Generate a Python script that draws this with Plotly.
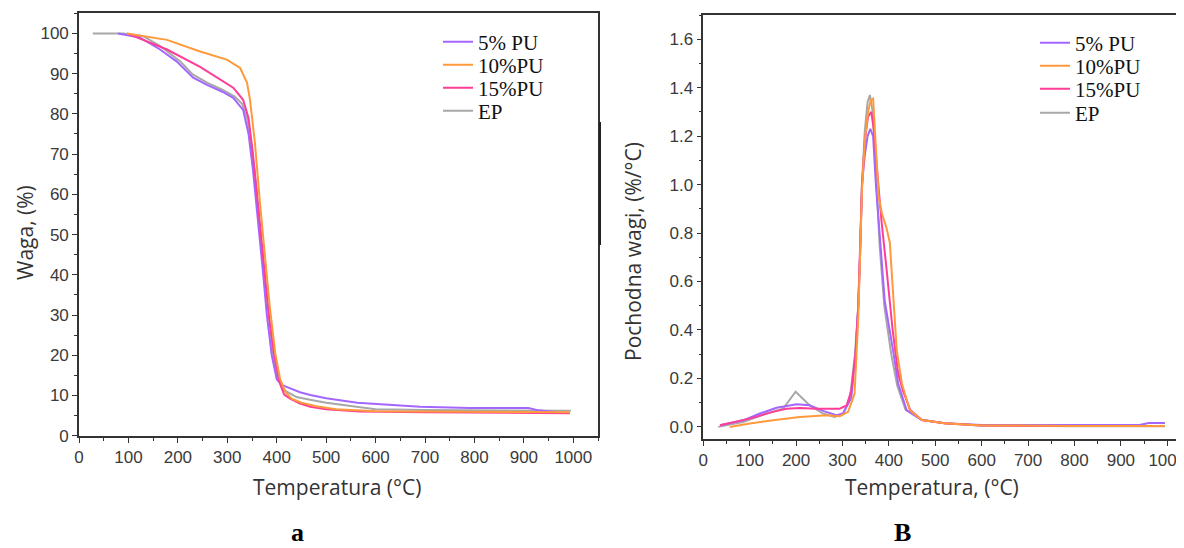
import plotly.graph_objects as go

# The page body has an 8px margin, so the figure is made 8px smaller and all
# layout positions (given in window pixels) are shifted accordingly.
WIN_W, WIN_H, OFF = 1184, 548, 8
FW, FH = WIN_W - OFF, WIN_H - OFF

def fx(px):
    return (px - OFF) / FW

def fy(py):
    return 1 - (py - OFF) / FH

series_names = ["5% PU", "10%PU", "15%PU", "EP"]
series_colors = ["#A366FF", "#FF9A3C", "#FF3D96", "#A8A8A8"]

# ---- Panel a: TGA (weight %) ----
tga_T_5 = [79, 123, 164, 198, 231, 259, 290, 312, 332, 343, 352, 362, 372, 380, 390, 400, 410, 425, 447, 468, 500, 563, 600, 690, 791, 909, 930, 975, 993]
tga_W_5 = [100, 99, 96, 93, 89, 87.2, 85.5, 84, 81, 75, 66, 54, 41, 30, 20, 14, 12.6, 11.9, 10.8, 10.1, 9.3, 8.2, 7.9, 7.2, 6.9, 6.9, 6.3, 5.7, 5.7]

tga_T_10 = [97, 178, 245, 299, 326, 340, 346, 356, 366, 376, 386, 397, 407, 418, 430, 450, 480, 520, 600, 700, 800, 900, 993]
tga_W_10 = [100, 98.4, 95.5, 93.5, 91.4, 87.7, 83.5, 72.7, 58, 45, 32, 20.5, 14, 10.8, 9.2, 8.2, 7.3, 6.6, 6.1, 6.0, 5.9, 5.8, 5.8]

tga_T_15 = [97, 178, 245, 290, 312, 332, 343, 352, 362, 372, 384, 395, 405, 415, 427, 447, 468, 500, 568, 700, 800, 900, 993]
tga_W_15 = [100, 96, 91.7, 88.3, 86.5, 83.5, 79, 70, 57, 44, 30, 20, 13.5, 10.2, 9.2, 8.0, 7.2, 6.6, 6.0, 5.8, 5.7, 5.6, 5.6]

tga_T_EP = [28, 90, 130, 165, 205, 230, 260, 290, 315, 330, 340, 348, 356, 366, 375, 384, 393, 403, 415, 440, 470, 500, 550, 600, 700, 800, 900, 995]
tga_W_EP = [100, 100, 99.3, 96.8, 93, 89.8, 87.7, 86, 84.3, 82.5, 79, 73, 65, 52, 40, 30, 20, 14, 11.3, 9.6, 8.9, 8.2, 7.4, 6.6, 6.4, 6.3, 6.2, 6.2]

# ---- Panel B: DTG (%/°C) ----
dtg_T_5 = [36, 86, 122, 158, 201, 229, 258, 287, 301, 319, 328, 334, 338, 342, 348, 354, 360, 366, 372, 380, 391, 409, 420, 438, 471, 520, 600, 720, 800, 940, 960, 995]
dtg_D_5 = [0.007, 0.027, 0.055, 0.079, 0.093, 0.089, 0.066, 0.048, 0.055, 0.12, 0.3, 0.5, 0.72, 1.0, 1.12, 1.2, 1.23, 1.2, 1.0, 0.78, 0.52, 0.315, 0.179, 0.069, 0.028, 0.015, 0.008, 0.008, 0.008, 0.008, 0.016, 0.016]

dtg_T_10 = [57, 100, 150, 208, 266, 294, 312, 326, 334, 338, 342, 348, 355, 361, 366, 372, 378, 385, 395, 402, 406, 410, 417, 428, 445, 471, 520, 600, 700, 800, 900, 995]
dtg_D_10 = [0.0, 0.014, 0.027, 0.041, 0.048, 0.044, 0.062, 0.137, 0.45, 0.7, 0.98, 1.18, 1.30, 1.35, 1.355, 1.15, 0.95, 0.88, 0.82, 0.76, 0.65, 0.5, 0.315, 0.179, 0.069, 0.028, 0.015, 0.006, 0.004, 0.004, 0.004, 0.004]

dtg_T_15 = [36, 100, 150, 179, 208, 244, 294, 309, 319, 328, 334, 338, 342, 348, 355, 362, 368, 375, 384, 395, 408, 420, 430, 446, 471, 520, 600, 700, 800, 900, 995]
dtg_D_15 = [0.007, 0.034, 0.062, 0.075, 0.078, 0.075, 0.075, 0.089, 0.15, 0.3, 0.5, 0.72, 1.0, 1.18, 1.28, 1.30, 1.22, 1.05, 0.85, 0.65, 0.40, 0.22, 0.15, 0.07, 0.028, 0.015, 0.006, 0.004, 0.004, 0.004, 0.004]

dtg_T_EP = [32, 86, 136, 172, 199, 229, 258, 283, 301, 316, 327, 334, 338, 342, 348, 354, 359, 365, 372, 380, 390, 405, 418, 436, 470, 520, 600, 700, 800, 900, 995]
dtg_D_EP = [0.0, 0.02, 0.055, 0.075, 0.145, 0.089, 0.055, 0.041, 0.052, 0.12, 0.3, 0.5, 0.72, 1.0, 1.22, 1.34, 1.37, 1.3, 1.05, 0.75, 0.5, 0.3, 0.17, 0.07, 0.03, 0.015, 0.005, 0.003, 0.003, 0.003, 0.003]

tga = [(tga_T_5, tga_W_5), (tga_T_10, tga_W_10), (tga_T_15, tga_W_15), (tga_T_EP, tga_W_EP)]
dtg = [(dtg_T_5, dtg_D_5), (dtg_T_10, dtg_D_10), (dtg_T_15, dtg_D_15), (dtg_T_EP, dtg_D_EP)]

# drawing order: EP first (underneath), then 5%, 15%, 10%
draw_order = [3, 0, 2, 1]

fig = go.Figure()

legend_rows_a = [42, 65, 88, 111]
legend_rows_b = [43, 66, 89, 113]

def legend_key(panel, i):
    idx = (0 if panel == "a" else 4) + i + 1
    return "legend" if idx == 1 else "legend%d" % idx

for panel, data, xa, ya in [("a", tga, "x", "y"), ("b", dtg, "x2", "y2")]:
    for i in draw_order:
        T, V = data[i]
        fig.add_trace(go.Scatter(
            x=T, y=V, mode="lines", name=series_names[i],
            line=dict(color=series_colors[i], width=2),
            xaxis=xa, yaxis=ya, legend=legend_key(panel, i), showlegend=True,
        ))

# legends (one per entry so the rows can sit tightly like the original)
leg_font = dict(family="Liberation Serif, Times New Roman, serif", size=21, color="#111")
for panel, rows, lx in [("a", legend_rows_a, 438), ("b", legend_rows_b, 1035)]:
    for i in range(4):
        fig.layout[legend_key(panel, i)] = dict(
            x=fx(lx), y=fy(rows[i]), xanchor="left", yanchor="middle",
            xref="paper", yref="paper",
            bgcolor="rgba(0,0,0,0)", borderwidth=0, font=leg_font,
            itemwidth=30, tracegroupgap=0,
        )

tick_font = dict(family="Liberation Sans, Arial, sans-serif", size=17, color="#3a3a3a")
axis_common = dict(showline=True, linecolor="#333", linewidth=1.6, ticks="outside",
                   ticklen=5, tickwidth=1.4, tickcolor="#333", tickfont=tick_font,
                   showgrid=False, zeroline=False, automargin=False)

x2_right = (WIN_W - 703.3) / 0.464

fig.update_layout(
    width=FW, height=FH,
    margin=dict(l=0, r=0, t=0, b=0, autoexpand=False),
    paper_bgcolor="white", plot_bgcolor="white",
    xaxis=dict(domain=[fx(79), fx(598)], range=[0, 1050], dtick=100, tick0=0,
               anchor="y", mirror=True,
               minor=dict(dtick=50, ticks="outside", ticklen=3, tickcolor="#333"),
               **axis_common),
    yaxis=dict(domain=[fy(435.7), fy(13.3)], range=[0, 105], dtick=10, tick0=0,
               anchor="x", mirror=True,
               minor=dict(dtick=5, ticks="outside", ticklen=3, tickcolor="#333"),
               **axis_common),
    xaxis2=dict(domain=[fx(703.3), 1.0], range=[0, x2_right], dtick=100, tick0=0,
                anchor="y2", mirror=True, ticklabeloverflow="allow",
                minor=dict(dtick=50, ticks="outside", ticklen=3, tickcolor="#333"),
                **axis_common),
    yaxis2=dict(domain=[fy(439), fy(15)], range=[-0.05, 1.7], dtick=0.2, tick0=0,
                anchor="x2", mirror=False, tickformat=".1f",
                minor=dict(dtick=0.1, ticks="outside", ticklen=3, tickcolor="#333"),
                **axis_common),
)

title_font = dict(family="Open Sans, Liberation Sans, sans-serif", size=21, color="#333")
letter_font = dict(family="Liberation Serif, Times New Roman, serif", size=26, color="#000")
ann = [
    dict(text="Waga, (%)", x=fx(25), y=fy(233), textangle=-90, font=title_font),
    dict(text="Temperatura (°C)", x=fx(337), y=fy(487), font=title_font),
    dict(text="Pochodna wagi, (%/°C)", x=fx(633), y=fy(252), textangle=-90, font=title_font),
    dict(text="Temperatura, (°C)", x=fx(932), y=fy(487), font=title_font),
    dict(text="<b>a</b>", x=fx(297), y=fy(532), font=letter_font),
    dict(text="<b>B</b>", x=fx(902), y=fy(532), font=letter_font),
]
for a in ann:
    a.update(xref="paper", yref="paper", showarrow=False, xanchor="center", yanchor="middle")
fig.update_layout(annotations=ann)

# small dark stroke beside the right edge of panel a, as in the scanned original
fig.add_shape(type="line", xref="paper", yref="paper",
              x0=fx(600), x1=fx(600), y0=fy(245), y1=fy(122),
              line=dict(color="#222", width=2))

fig.write_html("out.html")
